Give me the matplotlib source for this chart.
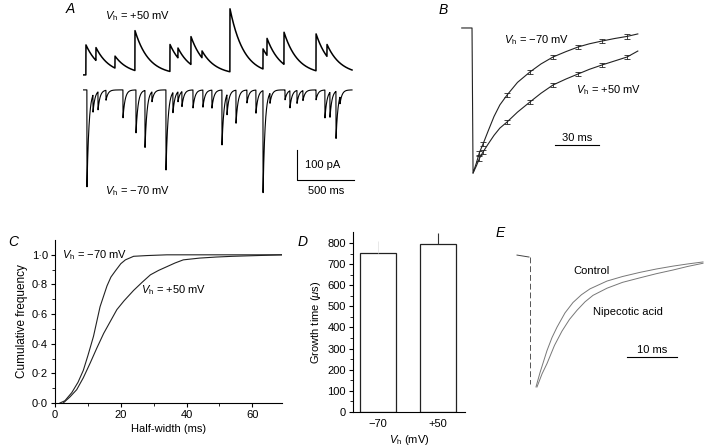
import numpy as np
import matplotlib
matplotlib.use('Agg')
import matplotlib.pyplot as plt

plt.rcParams['font.family'] = ['Liberation Sans', 'DejaVu Sans']
plt.rcParams['mathtext.fontset'] = 'custom'
plt.rcParams['mathtext.rm'] = 'Liberation Sans'
plt.rcParams['mathtext.it'] = 'Liberation Sans:italic'
plt.rcParams['font.size'] = 8

# --- A: spontaneous currents (event onset in ms, amplitude in pA)
out_t = [26, 114, 281, 456, 763, 833, 947, 1044, 1289, 1579, 1614, 1763, 2044, 2140]
out_amp = [100, 43, 40, 133, 90, 33, 93, 23, 210, 67, 57, 107, 123, 40]
in_t = [35, 88, 132, 202, 351, 465, 544, 605, 728, 789, 833, 868, 965, 1052, 1131,
        1219, 1263, 1342, 1438, 1517, 1579, 1640, 1772, 1815, 1877, 1929, 2044,
        2122, 2166, 2219, 2254]
in_amp = [323, 57, 60, 33, 93, 143, 190, 33, 267, 67, 33, 50, 60, 57, 60,
          183, 67, 110, 43, 77, 340, 33, 33, 57, 43, 33, 33, 93, 83, 157, 23]
trace_len = 2360
out_tau = 120
in_tau = 18

# --- B: normalised averaged currents (ms, fraction of peak)
b_base_t = [-7, 0]
b_base_y = [0, 0]
b_t70 = [0.7, 3, 5, 7.5, 11, 15, 19, 23.9, 31, 39.5, 47, 55.2, 64, 72.3, 80, 88.6, 97, 105.7, 113]
b_y70 = [-1.0, -0.93, -0.86, -0.8, -0.71, -0.61, -0.53, -0.462, -0.375, -0.303, -0.248,
         -0.2, -0.163, -0.131, -0.109, -0.09, -0.073, -0.058, -0.041]
b_t50 = [0.7, 3, 5, 7.5, 11, 15, 19, 23.9, 31, 39.5, 47, 55.2, 64, 72.3, 80, 88.6, 97, 105.7, 113]
b_y50 = [-1.0, -0.95, -0.9, -0.855, -0.8, -0.74, -0.69, -0.648, -0.58, -0.51, -0.45,
         -0.393, -0.352, -0.317, -0.285, -0.255, -0.228, -0.2, -0.159]
b_err_t70 = [5, 7.5, 23.9, 39.5, 55.2, 72.3, 88.6, 105.7]
b_err_y70 = [-0.86, -0.8, -0.462, -0.303, -0.2, -0.131, -0.09, -0.058]
b_err_t50 = [5, 7.5, 23.9, 39.5, 55.2, 72.3, 88.6, 105.7]
b_err_y50 = [-0.9, -0.855, -0.648, -0.51, -0.393, -0.317, -0.255, -0.2]
b_err = 0.015

# --- C: cumulative half-width distributions
c_x70 = [1.5, 3, 5.1, 7, 8.6, 10, 11.7, 13.7, 15.8, 17, 18.3, 20, 21.4, 23.9, 28, 34, 69]
c_y70 = [0, 0.015, 0.07, 0.14, 0.22, 0.32, 0.45, 0.65, 0.79, 0.85, 0.89, 0.94, 0.966,
         0.99, 0.995, 1.0, 1.0]
c_x50 = [2.5, 4.5, 6.6, 8.6, 10.7, 12.7, 14.8, 16.8, 18.8, 21, 23.9, 26.5, 29, 31.5,
         34, 36.5, 39, 44, 49, 54, 69]
c_y50 = [0, 0.04, 0.09, 0.17, 0.27, 0.37, 0.47, 0.55, 0.63, 0.69, 0.76, 0.815, 0.865,
         0.895, 0.92, 0.945, 0.966, 0.978, 0.985, 0.99, 1.0]
c_yticks = [0, 0.2, 0.4, 0.6, 0.8, 1.0]
c_ylabels = ['0·0', '0·2', '0·4', '0·6', '0·8', '1·0']
c_xticks = [0, 20, 40, 60]

# --- D: growth time
d_cats = ['\u221270', '+50']
d_vals = [753, 795]
d_err = [56, 52]

# --- E: control vs nipecotic acid (ms, fraction of peak)
e_base_t = [-2.6, -0.2]
e_base_y = [0.015, 0]
e_tc = [1.2, 2.0, 3.4, 4.4, 5.4, 7, 8.6, 10.3, 12, 15.4, 18.5, 22, 25.3, 28.6, 31.6, 34.6]
e_yc = [-1.0, -0.89, -0.72, -0.62, -0.54, -0.43, -0.35, -0.29, -0.245, -0.185, -0.15,
        -0.118, -0.092, -0.07, -0.053, -0.038]
e_tn = [1.4, 2.4, 3.4, 4.9, 6.4, 7.9, 9.4, 11, 12.6, 15.4, 18.5, 22, 25.3, 28.6, 31.6, 34.6]
e_yn = [-1.0, -0.9, -0.82, -0.68, -0.57, -0.48, -0.41, -0.345, -0.295, -0.24, -0.195,
        -0.16, -0.128, -0.1, -0.072, -0.048]

W, H = 717, 448
fig = plt.figure(figsize=(W / 100, H / 100), dpi=100)


def px_axes(left, top, right, bottom):
    return fig.add_axes([left / W, 1 - bottom / H, (right - left) / W, (bottom - top) / H])


def letter(x, y, s):
    fig.text(x / W, 1 - y / H, s, ha='center', va='center', style='italic', fontsize=10)


vp = r'$V_{\rm h}$ = +50 mV'
vm = '$V_{\\rm h}$ = \u221270 mV'

# A
ax = px_axes(83, 5, 356, 200)
t = np.arange(0, trace_len, 1.0)
up = np.full_like(t, 50.0)
for t0, a in zip(out_t, out_amp):
    m = t >= t0
    up[m] += a * np.exp(-(t[m] - t0) / out_tau)
dn = np.zeros_like(t)
for t0, a in zip(in_t, in_amp):
    m = t >= t0
    dn[m] -= a * np.exp(-(t[m] - t0) / in_tau)
ax.plot(t, up, color='black', lw=1.1)
ax.plot(t, dn, color='black', lw=0.8)
ax.plot([1877, 1877, 2377], [-200, -300, -300], color='black', lw=0.8)
ax.text(2105, -250, '100 pA', ha='center', va='center')
ax.text(2131, -337, '500 ms', ha='center', va='center')
ax.text(482, 247, vp, ha='center', va='center')
ax.text(482, -337, vm, ha='center', va='center')
ax.set_xlim(0, 2394)
ax.set_ylim(-367, 283)
ax.axis('off')
letter(70, 9, 'A')

# B
ax = px_axes(455, 20, 645, 180)
ax.plot(b_base_t + b_t70, b_base_y + b_y70, color='#222', lw=0.8)
ax.plot(b_t50, b_y50, color='#222', lw=0.8)
ax.errorbar(b_err_t70, b_err_y70, yerr=b_err, fmt='none', ecolor='#222', elinewidth=0.6, capsize=2, capthick=0.6)
ax.errorbar(b_err_t50, b_err_y50, yerr=b_err, fmt='none', ecolor='#222', elinewidth=0.6, capsize=2, capthick=0.6)
ax.plot([56.6, 86.6], [-0.807, -0.807], color='black', lw=0.8)
ax.text(71.6, -0.759, '30 ms', ha='center', va='center')
ax.text(44.3, -0.083, vm, ha='center', va='center')
ax.text(93.4, -0.428, vp, ha='center', va='center')
ax.set_xlim(-11.6, 117.9)
ax.set_ylim(-1.048, 0.055)
ax.axis('off')
letter(443, 10, 'B')

# C
ax = px_axes(55, 240, 282, 403)
ax.plot(c_x70, c_y70, color='#222', lw=0.8)
ax.plot(c_x50, c_y50, color='#222', lw=0.8)
ax.set_xlim(0, 69)
ax.set_ylim(0, 1.1)
ax.set_yticks(c_yticks)
ax.set_yticklabels(c_ylabels)
ax.set_yticks(np.arange(0.1, 1.1, 0.2), minor=True)
ax.set_xticks(c_xticks)
ax.set_xticks([10, 30, 50], minor=True)
for s in ['top', 'right']:
    ax.spines[s].set_visible(False)
for s in ['left', 'bottom']:
    ax.spines[s].set_linewidth(0.8)
ax.tick_params(which='major', length=3, width=0.8, pad=2)
ax.tick_params(which='minor', length=2, width=0.6)
ax.set_xlabel('Half-width (ms)', labelpad=3)
ax.set_ylabel('Cumulative frequency', labelpad=3, fontsize=8.5)
ax.text(12, 1.0, vm, ha='center', va='center')
ax.text(36, 0.76, vp, ha='center', va='center')
letter(13, 242, 'C')

# D
ax = px_axes(353, 232, 465, 412)
ax.bar([0, 1], d_vals, width=0.6, color='white', edgecolor='#222', lw=0.9)
ax.errorbar([1], [d_vals[1]], yerr=[[0], [d_err[1]]], fmt='none', ecolor='#333', elinewidth=0.8, capsize=0)
ax.errorbar([0], [d_vals[0]], yerr=[[0], [d_err[0]]], fmt='none', ecolor='#e4e4e4', elinewidth=0.6, capsize=0)
ax.set_xlim(-0.417, 1.45)
ax.set_ylim(0, 852)
ax.set_xticks([0, 1])
ax.set_xticklabels(d_cats)
ax.set_yticks(range(0, 900, 100))
ax.set_yticks(range(50, 850, 100), minor=True)
for s in ['top', 'right']:
    ax.spines[s].set_visible(False)
for s in ['left', 'bottom']:
    ax.spines[s].set_linewidth(0.8)
ax.tick_params(axis='x', length=0, pad=5)
ax.tick_params(axis='y', which='major', length=3, width=0.8, pad=2)
ax.tick_params(axis='y', which='minor', length=2, width=0.6)
ax.set_ylabel('Growth time ($\\mu$s)', labelpad=3)
ax.set_xlabel('$V_{\\rm h}$ (mV)', labelpad=3)
letter(303, 242, 'D')

# E
ax = px_axes(510, 240, 710, 395)
ax.plot(e_base_t, e_base_y, color='#444', lw=0.7)
ax.plot([0, 0], [0, -0.98], color='#555', lw=0.7, ls=(0, (6, 3)))
ax.plot(e_tc, e_yc, color='#777', lw=0.7)
ax.plot(e_tn, e_yn, color='#777', lw=0.7)
ax.plot([19.4, 29.4], [-0.769, -0.769], color='black', lw=0.8)
ax.text(24.4, -0.715, '10 ms', ha='center', va='center')
ax.text(12.2, -0.108, 'Control', ha='center', va='center')
ax.text(19.6, -0.423, 'Nipecotic acid', ha='center', va='center')
ax.set_xlim(-4, 36)
ax.set_ylim(-1.062, 0.131)
ax.axis('off')
letter(500, 233, 'E')

fig.savefig('out.png', dpi=100)
